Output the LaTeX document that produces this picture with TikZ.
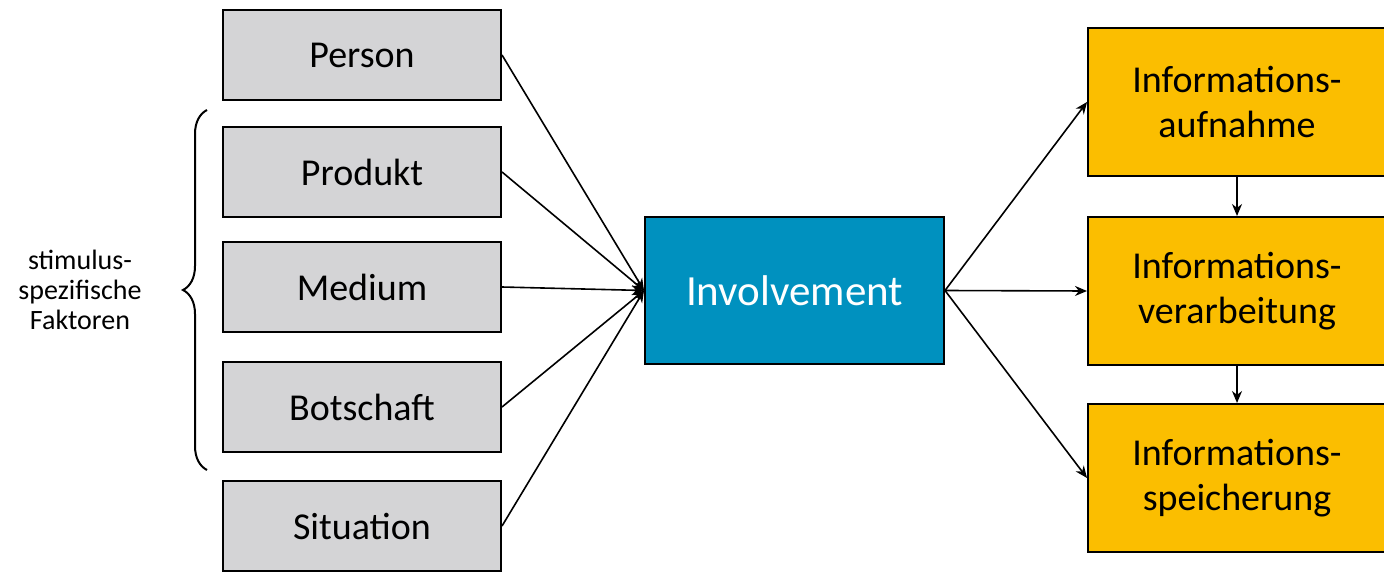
\documentclass[tikz,border=0pt]{standalone}
\usepackage{fontspec}
\setmainfont{Carlito}
\usetikzlibrary{arrows.meta,positioning,decorations.pathreplacing}
\definecolor{FactorGray}{RGB}{212, 212, 214}
\definecolor{CoreTeal}{RGB}{0, 145, 191}
\definecolor{EffectYellow}{RGB}{251, 190, 0}

\begin{document}
\begin{tikzpicture}[x=0.5pt, y=-0.5pt,
    factorbox/.style={draw, line width=1pt, fill=FactorGray, minimum width=139pt,
      minimum height=45pt, font=\fontsize{19}{22}\selectfont},
    corebox/.style={draw, line width=1pt, fill=CoreTeal, text=white, minimum width=149.5pt,
      minimum height=73.5pt, font=\fontsize{21.5}{25}\selectfont},
    effectbox/.style={draw, line width=1pt, fill=EffectYellow, minimum width=149pt,
      minimum height=74pt, align=center, font=\fontsize{19}{22.5}\selectfont},
    link/.style={line width=0.8pt, -{Stealth[length=6pt,width=5pt]}}]
    \useasboundingbox (0,0) rectangle (1384,572);

    % Central node
    \node[corebox] (involvement) at (794.5,290.5) {Involvement};

    % Left: factors
    \foreach \name/\label/\y in {person/Person/55, produkt/Produkt/172, medium/Medium/287,
        botschaft/Botschaft/407, situation/Situation/526} {
      \node[factorbox] (\name) at (362,\y) {\label};
      \draw[link] (\name.east) -- (involvement.west);
    }

    % Brace with label
    \draw[line width=1pt, decorate, decoration={brace, amplitude=12pt}]
      (207,470) -- (207,110);
    \node[align=center, font=\fontsize{14}{15}\selectfont] (stimulus) at (80,290)
      {stimulus-\\spezifische\\Faktoren};

    % Right: effects
    \node[effectbox] (aufnahme) at (1237,102) {Informations-\\aufnahme};
    \node[effectbox] (verarbeitung) at (1237,291) {Informations-\\verarbeitung};
    \node[effectbox] (speicherung) at (1237,478) {Informations-\\speicherung};

    \foreach \target in {aufnahme, verarbeitung, speicherung} {
      \draw[link] (involvement.east) -- (\target.west);
    }
    \draw[link] (aufnahme) -- (verarbeitung);
    \draw[link] (verarbeitung) -- (speicherung);
\end{tikzpicture}
\end{document}
